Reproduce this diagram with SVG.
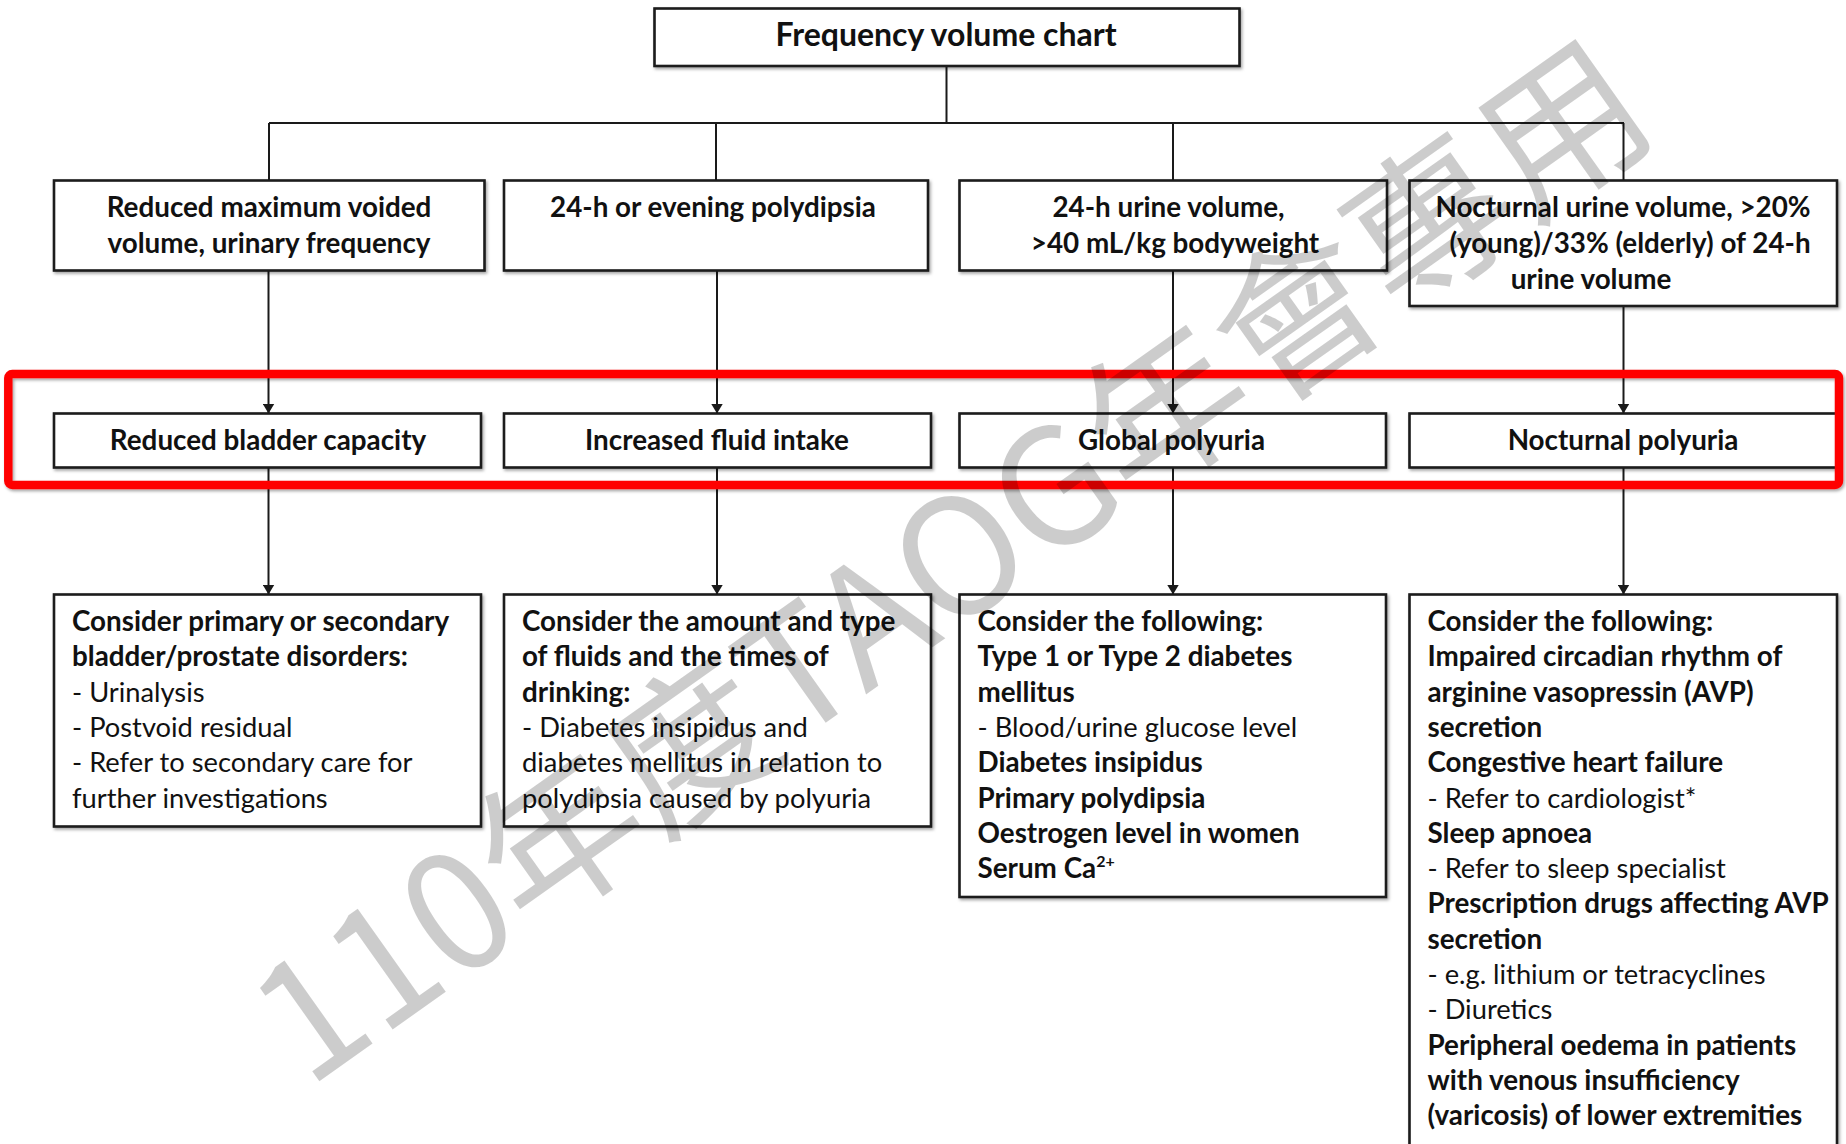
<svg xmlns="http://www.w3.org/2000/svg" width="1846" height="1144" viewBox="0 0 1846 1144">
  <defs>
    <filter id="shadow" x="-5%" y="-5%" width="110%" height="120%">
      <feDropShadow dx="1.5" dy="2" stdDeviation="1.5" flood-color="#000" flood-opacity="0.35"/>
    </filter>
    <marker id="arrow" viewBox="0 0 10 12" refX="10" refY="6" markerWidth="10" markerHeight="12" markerUnits="userSpaceOnUse" orient="auto">
      <path d="M0,0 L10,6 L0,12 Z" fill="#1a1a1a"/>
    </marker>
  </defs>
  <style>
    .box { fill: #fff; stroke: #1a1a1a; stroke-width: 2.6; filter: url(#shadow); }
    .wire { fill: none; stroke: #1a1a1a; stroke-width: 2; }
    .arr { fill: none; stroke: #1a1a1a; stroke-width: 2; marker-end: url(#arrow); }
    text { font-family: "Lato", "Liberation Sans", sans-serif; fill: #111; font-size: 27.3px; }
    .b { font-weight: bold; font-size: 27.8px; }
    .c { text-anchor: middle; font-weight: bold; font-size: 27.8px; }
    .title { font-size: 32px; }
    .wm { font-family: "Noto Sans CJK TC", "Noto Sans CJK SC", sans-serif; font-size: 162px; fill: #000; fill-opacity: 0.2; }
  </style>
  <rect width="1846" height="1144" fill="#fff"/>

  <!-- connectors -->
  <g id="connectors">
    <path class="wire" d="M946.5,66 V123 M269,123 H1624 M269,123 V180 M716,123 V180 M1173,123 V180 M1623.5,123 V180"/>
    <path class="arr" d="M268.5,270.5 V413.5"/>
    <path class="arr" d="M717,270.5 V413.5"/>
    <path class="arr" d="M1173,270.5 V413.5"/>
    <path class="arr" d="M1623.5,306 V413.5"/>
    <path class="arr" d="M268.5,467.5 V594.5"/>
    <path class="arr" d="M717,467.5 V594.5"/>
    <path class="arr" d="M1173,467.5 V594.5"/>
    <path class="arr" d="M1623.5,467.5 V594.5"/>
  </g>

  <g id="title">
    <rect class="box" x="654.5" y="8.5" width="585" height="57.5"/>
    <text class="c title" x="946" y="46">Frequency volume chart</text>
  </g>

  <!-- first row: chart findings -->
  <g id="finding-voided">
    <rect class="box" x="54" y="180.5" width="430.5" height="90"/>
    <text class="c" x="269" y="217">Reduced maximum voided</text>
    <text class="c" x="269" y="253">volume, urinary frequency</text>
  </g>
  <g id="finding-polydipsia">
    <rect class="box" x="504" y="180.5" width="424" height="90"/>
    <text class="c" x="713" y="217">24-h or evening polydipsia</text>
  </g>
  <g id="finding-24h">
    <rect class="box" x="959.5" y="180.5" width="427.5" height="90"/>
    <text class="c" x="1168.5" y="217">24-h urine volume,</text>
    <text class="c" x="1175" y="253">&gt;40 mL/kg bodyweight</text>
  </g>
  <g id="finding-nocturnal">
    <rect class="box" x="1409.5" y="180.5" width="427.5" height="125.5"/>
    <text class="c" x="1623" y="217">Nocturnal urine volume, &gt;20%</text>
    <text class="c" x="1630" y="253">(young)/33% (elderly) of 24-h</text>
    <text class="c" x="1591" y="289">urine volume</text>
  </g>

  <!-- second row: diagnoses -->
  <g id="dx-bladder">
    <rect class="box" x="54" y="413.5" width="427" height="54"/>
    <text class="c" x="268" y="450">Reduced bladder capacity</text>
  </g>
  <g id="dx-intake">
    <rect class="box" x="504" y="413.5" width="427" height="54"/>
    <text class="c" x="717" y="450">Increased fluid intake</text>
  </g>
  <g id="dx-global">
    <rect class="box" x="959.5" y="413.5" width="426.5" height="54"/>
    <text class="c" x="1171.5" y="450">Global polyuria</text>
  </g>
  <g id="dx-nocturnal">
    <rect class="box" x="1409.5" y="413.5" width="427.5" height="54"/>
    <text class="c" x="1623" y="450">Nocturnal polyuria</text>
  </g>

  <!-- third row: work-up -->
  <g id="workup-bladder">
    <rect class="box" x="54" y="594.5" width="427" height="232"/>
    <text class="b" x="72" y="631">Consider primary or secondary</text>
    <text class="b" x="72" y="666.3">bladder/prostate disorders:</text>
    <text x="72" y="701.6">- Urinalysis</text>
    <text x="72" y="736.9">- Postvoid residual</text>
    <text x="72" y="772.2">- Refer to secondary care for</text>
    <text x="72" y="807.5">further investigations</text>
  </g>
  <g id="workup-intake">
    <rect class="box" x="504" y="594.5" width="427" height="232"/>
    <text class="b" x="522" y="631">Consider the amount and type</text>
    <text class="b" x="522" y="666.3">of fluids and the times of</text>
    <text class="b" x="522" y="701.6">drinking:</text>
    <text x="522" y="736.9">- Diabetes insipidus and</text>
    <text x="522" y="772.2">diabetes mellitus in relation to</text>
    <text x="522" y="807.5">polydipsia caused by polyuria</text>
  </g>
  <g id="workup-global">
    <rect class="box" x="959.5" y="594.5" width="426.5" height="302.5"/>
    <text class="b" x="977.5" y="631">Consider the following:</text>
    <text class="b" x="977.5" y="666.3">Type 1 or Type 2 diabetes</text>
    <text class="b" x="977.5" y="701.6">mellitus</text>
    <text x="977.5" y="736.9">- Blood/urine glucose level</text>
    <text class="b" x="977.5" y="772.2">Diabetes insipidus</text>
    <text class="b" x="977.5" y="807.5">Primary polydipsia</text>
    <text class="b" x="977.5" y="842.8">Oestrogen level in women</text>
    <text class="b" x="977.5" y="878.1">Serum Ca<tspan font-size="16" dy="-11">2+</tspan></text>
  </g>
  <g id="workup-nocturnal">
    <rect class="box" x="1409.5" y="594.5" width="427.5" height="570"/>
    <text class="b" x="1427.5" y="631">Consider the following:</text>
    <text class="b" x="1427.5" y="666.3">Impaired circadian rhythm of</text>
    <text class="b" x="1427.5" y="701.6">arginine vasopressin (AVP)</text>
    <text class="b" x="1427.5" y="736.9">secretion</text>
    <text class="b" x="1427.5" y="772.2">Congestive heart failure</text>
    <text x="1427.5" y="807.5">- Refer to cardiologist*</text>
    <text class="b" x="1427.5" y="842.8">Sleep apnoea</text>
    <text x="1427.5" y="878.1">- Refer to sleep specialist</text>
    <text class="b" x="1427.5" y="913.4">Prescription drugs affecting AVP</text>
    <text class="b" x="1427.5" y="948.7">secretion</text>
    <text x="1427.5" y="984">- e.g. lithium or tetracyclines</text>
    <text x="1427.5" y="1019.3">- Diuretics</text>
    <text class="b" x="1427.5" y="1054.6">Peripheral oedema in patients</text>
    <text class="b" x="1427.5" y="1089.9">with venous insufficiency</text>
    <text class="b" x="1427.5" y="1125.2">(varicosis) of lower extremities</text>
  </g>

  <!-- highlight around the diagnosis row -->
  <rect x="8.3" y="374" width="1830.7" height="111" rx="4" fill="none" stroke="#ff0000" stroke-width="8.5" filter="url(#shadow)"/>

  <!-- watermark, set in two runs that join on one rotated baseline -->
  <g id="watermark" transform="translate(957,560) rotate(-35.3)">
    <text class="wm" x="176" y="57" text-anchor="end">110年度TAOG</text>
    <text class="wm" x="176" y="57" text-anchor="start">年會專用</text>
  </g>
</svg>
